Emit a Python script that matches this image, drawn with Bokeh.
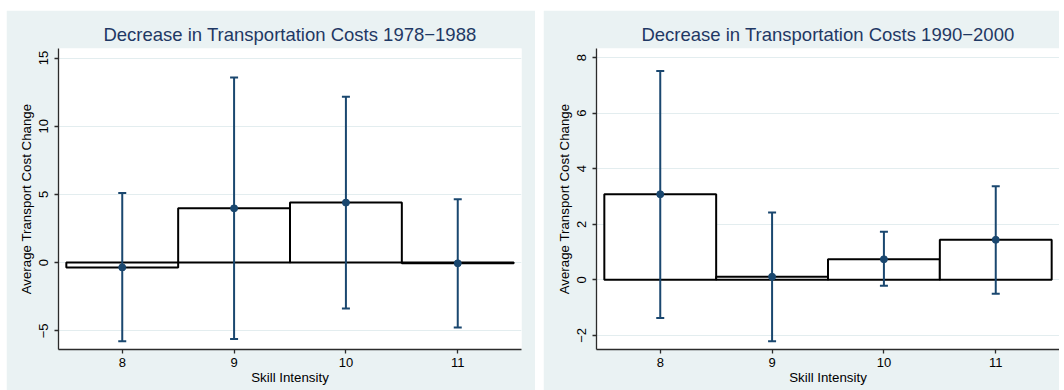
from bokeh.plotting import figure
from bokeh.layouts import row
from bokeh.models import ColumnDataSource, Range1d, FixedTicker, Whisker, TeeHead
from bokeh.embed import file_html
from bokeh.resources import INLINE

# Skill-intensity groups and average transport cost change with 95% CIs
skill = [8, 9, 10, 11]

mean_7888 = [-0.35, 3.98, 4.40, -0.05]
lo_7888 = [-5.77, -5.60, -3.36, -4.75]
hi_7888 = [5.10, 13.58, 12.16, 4.65]

mean_9000 = [3.08, 0.11, 0.74, 1.44]
lo_9000 = [-1.38, -2.21, -0.21, -0.50]
hi_9000 = [7.52, 2.42, 1.73, 3.37]

titles = ["Decrease in Transportation Costs 1978\u22121988",
          "Decrease in Transportation Costs 1990\u22122000"]
yticks_7888 = [-5, 0, 5, 10, 15]
yticks_9000 = [-2, 0, 2, 4, 6, 8]

FONT = "Liberation Sans"
REGION_BG = "#EAF2F3"
GRID = "#E3EDEF"
NAVY = "#1A476F"
TITLE_COLOR = "#1F3864"


def panel(title, means, lo, hi, yticks, yrange, width, border_left, border_right, margin):
    p = figure(width=width, height=380, output_backend="svg", toolbar_location=None,
               x_range=Range1d(7.43, 11.57), y_range=Range1d(*yrange),
               min_border_left=border_left, min_border_right=border_right,
               min_border_top=38, min_border_bottom=41, title=title)
    p.margin = margin
    p.border_fill_color = REGION_BG
    p.background_fill_color = "white"
    p.outline_line_color = None

    p.title.text_font = FONT
    p.title.text_font_size = "18.5px"
    p.title.text_font_style = "normal"
    p.title.text_color = TITLE_COLOR
    p.title.align = "center"
    p.title.standoff = 8

    src = ColumnDataSource(dict(
        x=skill, m=means, lo=lo, hi=hi,
        left=[s - 0.5 for s in skill], right=[s + 0.5 for s in skill],
        zero=[0] * len(skill)))

    # bars for the group means
    p.quad(left="left", right="right", bottom="zero", top="m", source=src,
           fill_color="white", line_color="black", line_width=2)

    # confidence intervals, drawn over the bars
    w = Whisker(base="x", lower="lo", upper="hi", source=src,
                line_color=NAVY, line_width=2, level="overlay",
                upper_head=TeeHead(size=8, line_color=NAVY, line_width=2),
                lower_head=TeeHead(size=8, line_color=NAVY, line_width=2))
    p.add_layout(w)
    p.scatter("x", "m", source=src, size=7, fill_color=NAVY, line_color=NAVY,
              level="overlay")

    # axes
    p.xaxis.ticker = FixedTicker(ticks=skill)
    p.yaxis.ticker = FixedTicker(ticks=yticks)
    p.yaxis.major_label_overrides = {t: (str(t).replace("-", "\u2212")) for t in yticks}
    p.yaxis.major_label_orientation = "vertical"
    p.xaxis.axis_label = "Skill Intensity"
    p.yaxis.axis_label = "Average Transport Cost Change"
    for ax in (p.xaxis[0], p.yaxis[0]):
        ax.axis_line_color = "#2b2b2b"
        ax.axis_line_width = 1.3
        ax.major_tick_line_color = "#2b2b2b"
        ax.major_tick_line_width = 1.3
        ax.major_tick_out = 4
        ax.major_tick_in = 0
        ax.minor_tick_line_color = None
        ax.major_label_text_font = FONT
        ax.major_label_text_font_size = "13px"
        ax.major_label_text_color = "black"
        ax.axis_label_text_font = FONT
        ax.axis_label_text_font_size = "13.3px"
        ax.axis_label_text_font_style = "normal"
        ax.axis_label_text_color = "black"
    p.xaxis.major_label_standoff = 4
    p.xaxis.axis_label_standoff = 0
    p.yaxis.major_label_standoff = 6
    p.yaxis.axis_label_standoff = 3

    p.xgrid.grid_line_color = None
    p.ygrid.grid_line_color = GRID
    p.ygrid.grid_line_width = 1.2
    return p


p1 = panel(titles[0], mean_7888, lo_7888, hi_7888, yticks_7888, (-6.37, 15.70),
           width=529, border_left=52, border_right=14, margin=(10, 0, 0, 6))
p2 = panel(titles[1], mean_9000, lo_9000, hi_9000, yticks_9000, (-2.51, 8.33),
           width=516, border_left=53, border_right=0, margin=(10, 0, 0, 8))

p = row(p1, p2)

open("out.html", "w").write(file_html(p, INLINE))
